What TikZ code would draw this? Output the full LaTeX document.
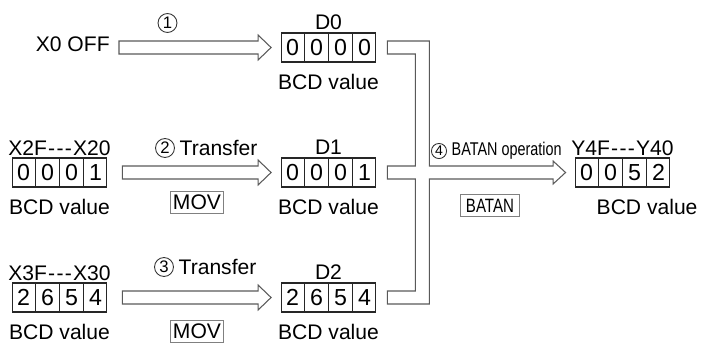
\documentclass[tikz,border=0pt]{standalone}
\usepackage{fontspec}
\setmainfont{Liberation Sans}
\newfontfamily\narrowfont{Liberation Sans}[FakeStretch=0.78]
\usetikzlibrary{positioning,calc,shapes.multipart}
\tikzset{
    regBox/.style={
        draw=black!85,
        line width=0.7pt,
        rectangle split,
        rectangle split horizontal,
        rectangle split parts=4,
        inner xsep=2.8pt,
        inner ysep=3pt,
        minimum height=16.4pt,
        font=\fontsize{13.2}{15}\selectfont
    },
    regName/.style={
        inner sep=0pt
    },
    bcdLabel/.style={
        inner sep=0pt
    },
    stepText/.style={
        inner sep=0pt
    },
    numCircle/.style={
        circle,
        draw=black!80,
        line width=0.5pt,
        inner sep=0pt,
        minimum size=10.8pt,
        font=\fontsize{9.5}{10}\selectfont
    },
    opBox/.style={
        draw=black!50,
        line width=0.5pt,
        inner xsep=1.4pt,
        inner ysep=2pt
    },
    fatLine/.style={
        draw=black!65,
        line width=0.6pt,
        line join=miter
    }
}
\newcommand{\dashes}{\kern0.6pt-\kern0.8pt-\kern0.8pt-\kern0.6pt}
% hollow arrow from #1 to tip #2 (same height)
\newcommand{\fatarrow}[2]{%
    \draw[fatLine] ($#1+(0,-6.5)$) -- ($#2+(-13,-6.5)$) -- ($#2+(-13,-12.5)$)
        -- ($#2$) -- ($#2+(-13,12.5)$) -- ($#2+(-13,6.5)$) -- ($#1+(0,6.5)$) -- cycle;}

\begin{document}
\begin{tikzpicture}[x=0.02cm, y=-0.02cm, font=\fontsize{12pt}{14pt}\selectfont]
    \useasboundingbox (0,0) rectangle (701,343);

    % registers
    \node[regBox] (d0) at (328.5,47.5) {0\nodepart{two}0\nodepart{three}0\nodepart{four}0};
    \node[regBox] (d1) at (328.5,172.5) {0\nodepart{two}0\nodepart{three}0\nodepart{four}1};
    \node[regBox] (d2) at (328.5,297.5) {2\nodepart{two}6\nodepart{three}5\nodepart{four}4};
    \node[regBox] (x2) at (59.5,172.5) {0\nodepart{two}0\nodepart{three}0\nodepart{four}1};
    \node[regBox] (x3) at (59.5,297.5) {2\nodepart{two}6\nodepart{three}5\nodepart{four}4};
    \node[regBox] (y4) at (622.5,172.5) {0\nodepart{two}0\nodepart{three}5\nodepart{four}2};

    \node[regName,above=1.5pt of d0] (d0name) {D0};
    \node[regName,above=1.5pt of d1] (d1name) {D1};
    \node[regName,above=1.5pt of d2] (d2name) {D2};
    \node[regName,above=1pt of x2] (x2name) {X2F\dashes X20};
    \node[regName,above=1pt of x3] (x3name) {X3F\dashes X30};
    \node[regName,above=1pt of y4] (y4name) {Y4F\dashes Y40};

    \node[bcdLabel,below=6.5pt of d0] (d0bcd) {BCD value};
    \node[bcdLabel,below=6.5pt of d1] (d1bcd) {BCD value};
    \node[bcdLabel,below=6.5pt of d2] (d2bcd) {BCD value};
    \node[bcdLabel,below=6.5pt of x2] (x2bcd) {BCD value};
    \node[bcdLabel,below=6.5pt of x3] (x3bcd) {BCD value};
    \node[bcdLabel,below=6.5pt of y4,xshift=14pt] (y4bcd) {BCD value};

    \node[regName,anchor=east] (x0) at (110,44) {X0 OFF};

    % steps
    \node[numCircle] (n1) at (167.5,23) {1};
    \node[numCircle] (n2) at (165,148) {2};
    \node[stepText,right=2.5pt of n2] (t2) {Transfer};
    \node[numCircle] (n3) at (164,267) {3};
    \node[stepText,right=2.5pt of n3] (t3) {Transfer};
    \node[numCircle,minimum size=8.6pt,font=\fontsize{8}{9}\selectfont] (n4) at (439,151) {4};
    \node[stepText,right=2.5pt of n4,font=\fontsize{10.5}{12}\narrowfont] (t4) {BATAN operation};

    \node[opBox] (mov2) at (197,202) {MOV};
    \node[opBox] (mov3) at (197,331) {MOV};
    \node[opBox,minimum width=34pt,minimum height=13pt,font=\fontsize{11}{12}\narrowfont] (batan) at (490,205.5) {BATAN};

    % transfers
    \fatarrow{(x0.east |- d0.west)+(9,0)}{(d0.west)+(-9.5,0)}
    \fatarrow{(x2.east)+(15,0)}{(d1.west)+(-9.5,0)}
    \fatarrow{(x3.east)+(15,0)}{(d2.west)+(-9.5,0)}

    % bus into BATAN
    \coordinate (busL) at ($(d0.east)+(11,0)$);
    \coordinate (busI) at ($(d0.east)+(39,0)$);
    \coordinate (busO) at ($(d0.east)+(53,0)$);
    \coordinate (tip) at ($(y4.west)+(-9,0)$);
    \draw[fatLine] ($(busL)+(0,-6.5)$) -- ($(busO)+(0,-6.5)$)
        -- ($(busO |- d1.east)+(0,-6.5)$) -- ($(tip)+(-12.5,-6.5)$) -- ($(tip)+(-12.5,-11.5)$)
        -- (tip) -- ($(tip)+(-12.5,11.5)$) -- ($(tip)+(-12.5,6.5)$)
        -- ($(busO |- d1.east)+(0,6.5)$) -- ($(busO |- d2.east)+(0,6.5)$)
        -- ($(busL |- d2.east)+(0,6.5)$) -- ($(busL |- d2.east)+(0,-6.5)$)
        -- ($(busI |- d2.east)+(0,-6.5)$) -- ($(busI |- d1.east)+(0,6.5)$)
        -- ($(busL |- d1.east)+(0,6.5)$) -- ($(busL |- d1.east)+(0,-6.5)$)
        -- ($(busI |- d1.east)+(0,-6.5)$) -- ($(busI)+(0,6.5)$)
        -- ($(busL)+(0,6.5)$) -- cycle;
\end{tikzpicture}
\end{document}
